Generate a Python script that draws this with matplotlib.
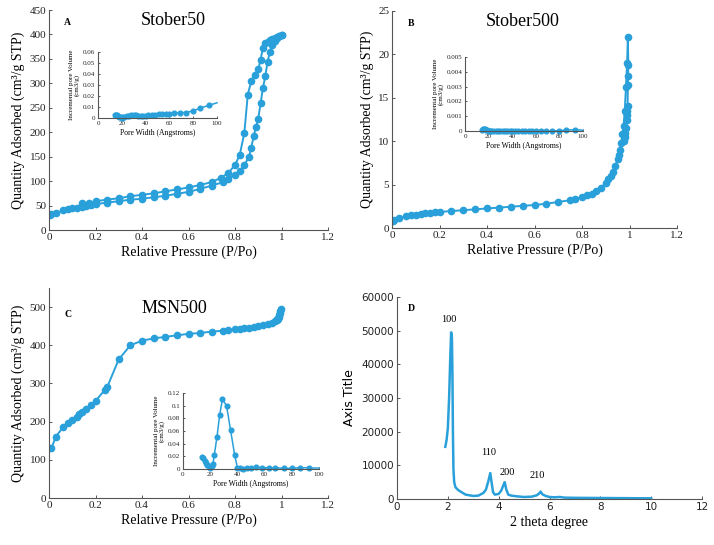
import matplotlib
matplotlib.use("Agg")
import matplotlib.pyplot as plt
import numpy as np
from matplotlib.ticker import FuncFormatter, MultipleLocator

BLUE = "#29A0DA"
SERIF = "Liberation Serif"
SANS = "DejaVu Sans"

# ---------------- Panel A: Stober50 ----------------
a_ads_p = [0.005, 0.01, 0.03, 0.06, 0.08, 0.1, 0.12, 0.14, 0.16, 0.18, 0.2, 0.25, 0.3, 0.35, 0.4, 0.45,
           0.5, 0.55, 0.6, 0.65, 0.7, 0.75, 0.77, 0.8, 0.82, 0.84, 0.86, 0.87, 0.88, 0.89, 0.9, 0.91, 0.92,
           0.93, 0.94, 0.95, 0.96, 0.97, 0.98, 0.99, 1.0]
a_ads_q = [30, 32, 35, 40, 42, 44, 46, 48, 49, 51, 53, 56, 59, 62, 64, 67,
           70, 74, 78, 84, 91, 98, 104, 113, 121, 132, 150, 168, 192, 210, 228, 259, 290,
           314, 343, 365, 378, 386, 392, 396, 398]
a_des_p = [1.0, 0.99, 0.98, 0.97, 0.96, 0.95, 0.94, 0.93, 0.92, 0.91, 0.9, 0.885, 0.87, 0.855, 0.84,
           0.82, 0.8, 0.77, 0.74, 0.7, 0.65, 0.6, 0.55, 0.5, 0.45, 0.4, 0.35, 0.3, 0.25, 0.2, 0.17, 0.14]
a_des_q = [398, 396, 394, 392, 390, 388, 385, 382, 373, 348, 329, 317, 305, 277, 198,
           153, 133, 116, 107, 98, 92, 87, 83, 79, 75, 72, 69, 65, 62, 59, 55, 55]
a_pw = [14, 15, 16, 17, 18, 19, 20, 21, 22, 24, 26, 28, 30, 32, 34, 36, 38, 40, 42, 45, 48, 51, 54,
        57, 60, 64, 69, 74, 80, 86, 93]
a_pv = [0.003, 0.003, 0.0025, 0.002, 0.0012, 0.0006, 0.0003, 0.0005, 0.001, 0.0015, 0.002, 0.0025,
        0.0025, 0.0025, 0.002, 0.002, 0.002, 0.002, 0.0025, 0.003, 0.003, 0.0035, 0.004, 0.004, 0.004,
        0.0045, 0.005, 0.005, 0.0065, 0.009, 0.0115]
a_pw_end = [93, 100]
a_pv_end = [0.0115, 0.0138]

# ---------------- Panel B: Stober500 ----------------
b_p = [0.005, 0.01, 0.03, 0.06, 0.08, 0.1, 0.12, 0.14, 0.16, 0.18, 0.2, 0.25, 0.3, 0.35, 0.4, 0.45,
       0.5, 0.55, 0.6, 0.65, 0.7, 0.75, 0.77, 0.8, 0.82, 0.84, 0.86, 0.88, 0.9, 0.91, 0.92, 0.93,
       0.94, 0.95, 0.955, 0.96, 0.965, 0.97, 0.975, 0.98, 0.985, 0.99, 0.993, 0.995, 0.994, 0.993,
       0.992, 0.991, 0.99, 0.988, 0.985, 0.982, 0.98, 0.978]
b_q = [0.8, 0.9, 1.1, 1.35, 1.45, 1.55, 1.65, 1.7, 1.75, 1.8, 1.85, 1.95, 2.05, 2.15, 2.25, 2.35,
       2.45, 2.55, 2.65, 2.8, 3.0, 3.2, 3.3, 3.55, 3.75, 3.95, 4.25, 4.65, 5.2, 5.6, 6.0, 6.5,
       7.1, 7.9, 8.4, 9.0, 9.8, 10.8, 11.8, 13.5, 16.2, 19.0, 22.0, 18.8, 17.5, 16.5,
       14.0, 13.5, 13.0, 12.5, 11.5, 11.0, 10.5, 10.0]
b_pw = [14, 15, 16, 17, 18, 19, 20, 21, 22, 24, 26, 28, 30, 32, 34, 36, 38, 40, 42, 45, 48, 51, 54,
        57, 60, 64, 69, 74, 80, 86, 93]
b_pv = [0.0001, 0.00012, 0.00012, 0.00012, 0.0001, 0.00005, 0.00002, 0.0, 0.0, 0.0, 0.0, 0.0, 0.0,
        0.0, 0.0, 0.0, 0.0, 0.0, 0.0, 0.0, 0.0, 0.0, 0.0, 0.0, 0.0, 0.0, 0.0, 0.0, 0.00003, 0.00005,
        0.0001]
b_pw_end = [93, 100]
b_pv_end = [0.0001, 0.00005]

# ---------------- Panel C: MSN500 ----------------
c_p = [0.01, 0.03, 0.06, 0.08, 0.1, 0.12, 0.13, 0.14, 0.16, 0.18, 0.2, 0.24, 0.25, 0.3, 0.35, 0.4,
       0.45, 0.5, 0.55, 0.6, 0.65, 0.7, 0.75, 0.77, 0.8, 0.82, 0.84, 0.86, 0.88, 0.9, 0.92, 0.94,
       0.96, 0.97, 0.98, 0.99, 0.995, 0.997, 0.995, 0.99, 0.985, 0.98]
c_q = [130, 161, 185, 196, 205, 213, 220, 225, 233, 243, 254, 283, 290, 363, 400, 412,
       418, 422, 426, 430, 432, 436, 438, 440, 442, 443, 445, 446, 448, 450, 452, 455,
       459, 463, 468, 478, 490, 495, 484, 475, 470, 467]
c_pw = [14, 15, 16, 17, 18, 19, 20, 21, 22, 23, 25, 27, 29, 32, 35, 38, 40, 42, 44, 47, 50, 54, 58,
        63, 68, 74, 80, 86, 93]
c_pv = [0.019, 0.017, 0.013, 0.01, 0.007, 0.004, 0.002, 0.005, 0.008, 0.022, 0.051, 0.086, 0.11,
        0.1, 0.061, 0.022, 0.002, 0.001, 0.0, 0.001, 0.002, 0.003, 0.002, 0.002, 0.002, 0.001, 0.001,
        0.002, 0.002]
c_pw_end = [93, 100]
c_pv_end = [0.002, 0.002]

# ---------------- Panel D: XRD ----------------
d_x = [1.9, 1.95, 2.0, 2.05, 2.1, 2.13, 2.16, 2.18, 2.2, 2.22, 2.25, 2.3, 2.4, 2.5, 2.7, 3.0, 3.2,
       3.4, 3.5, 3.6, 3.67, 3.72, 3.78, 3.85, 4.0, 4.1, 4.18, 4.24, 4.3, 4.38, 4.5, 4.7, 5.0, 5.3, 5.5,
       5.6, 5.65, 5.72, 5.85, 6.0, 6.2, 6.4, 6.6, 7.0, 7.5, 8.0, 8.5, 9.0, 9.5, 10.0]
d_y = [15500, 17500, 21000, 30000, 43000, 49500, 48000, 38000, 20000, 9000, 5000, 3500, 2700, 2200,
       1300, 900, 1000, 1800, 2800, 5500, 7700, 5000, 2000, 1300, 1500, 2500, 4000, 5000, 2800, 1300,
       1000, 800, 600, 700, 1100, 1700, 2200, 1400, 900, 600, 500, 600, 400, 350, 320, 300, 270, 250,
       220, 200]
d_peak_labels = ["100", "110", "200", "210"]
d_peak_x = [2.03, 3.6, 4.33, 5.53]
d_peak_y = [53300, 13800, 7800, 6900]

fig = plt.figure(figsize=(7.14, 5.45), dpi=100)
W, H = 714.0, 545.0


def rect(left, top, right, bottom):
    return [left / W, 1 - bottom / H, (right - left) / W, (bottom - top) / H]


def style(ax, fs, fam, ticklen=2.5):
    for s in ["top", "right"]:
        ax.spines[s].set_visible(False)
    for s in ["left", "bottom"]:
        ax.spines[s].set_color("#555555")
        ax.spines[s].set_linewidth(0.8)
    ax.tick_params(direction="in", length=ticklen, width=0.7, color="#555555",
                   labelsize=fs, pad=2)
    for lab in ax.get_xticklabels() + ax.get_yticklabels():
        lab.set_fontfamily(fam)
        lab.set_color("#222222")


def fmt_num(v, pos=None):
    return "%g" % v


mk = dict(marker="o", ms=4.5, color=BLUE, lw=1.4, mec=BLUE)
mk_in = dict(marker="o", ms=3.4, color=BLUE, lw=1.1, mec=BLUE)


def main_iso(ax, ymax, ystep, ytop=None):
    ax.set_xlim(0, 1.2)
    ax.set_ylim(0, ytop if ytop else ymax)
    ax.xaxis.set_major_locator(MultipleLocator(0.2))
    ax.set_yticks(np.arange(0, ymax + ystep / 2, ystep))
    ax.xaxis.set_major_formatter(FuncFormatter(fmt_num))
    ax.yaxis.set_major_formatter(FuncFormatter(fmt_num))
    style(ax, 8, SERIF)
    ax.set_xlabel("Relative Pressure (P/Po)", fontfamily=SERIF, fontsize=10, labelpad=3)
    ax.set_ylabel("Quantity Adsorbed (cm³/g STP)", fontfamily=SERIF, fontsize=10, labelpad=3)


def inset(ax, ymax, ystep, xs, ys, xe, ye):
    ax.plot(xs, ys, clip_on=False, **mk_in)
    ax.plot(xe, ye, color=BLUE, lw=1.1, clip_on=False)
    ax.set_xlim(0, 100)
    ax.set_ylim(0, ymax)
    ax.set_xticks(np.arange(0, 101, 20))
    ax.set_yticks(np.arange(0, ymax + ystep / 2, ystep))
    ax.yaxis.set_major_formatter(FuncFormatter(fmt_num))
    ax.patch.set_alpha(0)
    style(ax, 5, SERIF, ticklen=1.5)
    ax.set_xlabel("Pore Width (Angstroms)", fontfamily=SERIF, fontsize=5.5, labelpad=2)
    ax.set_ylabel("Incremental pore Volume\n(cm3/g)", fontfamily=SERIF, fontsize=5, labelpad=2,
                  linespacing=1.0)


# Panel A
axA = fig.add_axes(rect(49, 10, 328, 230))
axA.plot(a_ads_p, a_ads_q, **mk)
axA.plot(a_des_p, a_des_q, **mk)
main_iso(axA, 450, 50)
axA.text(0.055, 0.93, "A", transform=axA.transAxes, fontfamily=SERIF, fontweight="bold", fontsize=7)
axA.text(0.33, 0.93, "Stober50", transform=axA.transAxes, fontfamily=SERIF, fontsize=13)
insA = fig.add_axes(rect(98, 52, 217, 118))
inset(insA, 0.06, 0.01, a_pw, a_pv, a_pw_end, a_pv_end)

# Panel B
axB = fig.add_axes(rect(392, 11, 677, 228))
axB.plot(b_p, b_q, **mk)
main_iso(axB, 25, 5)
axB.text(0.055, 0.93, "B", transform=axB.transAxes, fontfamily=SERIF, fontweight="bold", fontsize=7)
axB.text(0.33, 0.93, "Stober500", transform=axB.transAxes, fontfamily=SERIF, fontsize=13)
insB = fig.add_axes(rect(465, 57, 583, 131))
inset(insB, 0.005, 0.001, b_pw, b_pv, b_pw_end, b_pv_end)

# Panel C
axC = fig.add_axes(rect(49, 288, 328, 498))
axC.plot(c_p, c_q, **mk)
main_iso(axC, 500, 100, ytop=550)
axC.text(0.055, 0.86, "C", transform=axC.transAxes, fontfamily=SERIF, fontweight="bold", fontsize=7)
axC.text(0.33, 0.88, "MSN500", transform=axC.transAxes, fontfamily=SERIF, fontsize=13)
insC = fig.add_axes(rect(183, 393, 319, 469))
inset(insC, 0.12, 0.02, c_pw, c_pv, c_pw_end, c_pv_end)

# Panel D
axD = fig.add_axes(rect(397, 297, 702, 499))
axD.plot(d_x, d_y, color=BLUE, lw=1.8)
axD.set_xlim(0, 12)
axD.set_ylim(0, 60000)
axD.set_xticks(np.arange(0, 12.1, 2))
axD.set_yticks(np.arange(0, 60001, 10000))
style(axD, 7.5, SANS)
axD.set_xlabel("2 theta degree", fontfamily=SERIF, fontsize=10, labelpad=3)
axD.set_ylabel("Axis Title", fontfamily=SANS, fontsize=9, labelpad=4)
axD.text(0.035, 0.93, "D", transform=axD.transAxes, fontfamily=SERIF, fontweight="bold", fontsize=7)
for lab, x, y in zip(d_peak_labels, d_peak_x, d_peak_y):
    axD.text(x, y, lab, fontfamily=SERIF, fontsize=7.5, ha="center", va="center")

fig.savefig("out.png", dpi=100)
